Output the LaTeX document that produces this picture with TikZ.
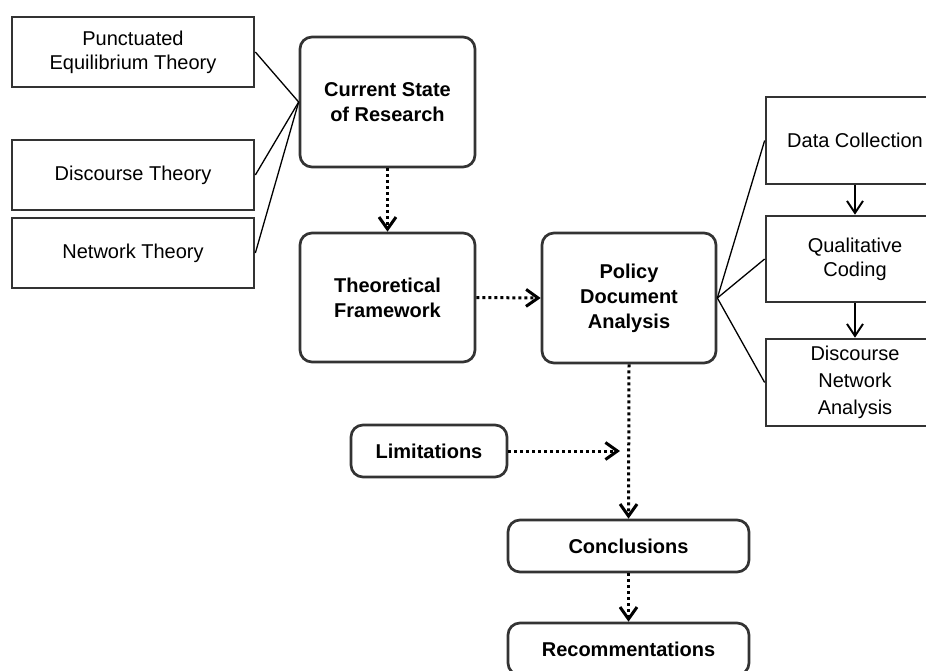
\documentclass[tikz,border=0pt]{standalone}
\usepackage{fontspec}
\setmainfont{Liberation Sans}
\usetikzlibrary{arrows.meta}
\definecolor{edge}{HTML}{333333}
\tikzset{
  base/.style={draw=edge, line width=2.7pt, align=center, inner sep=2pt,
    font=\fontsize{20}{24}\selectfont},
  plainbox/.style={base},
  roundbox/.style={base, rounded corners=12pt, font=\fontsize{20}{25}\selectfont\bfseries},
  link/.style={line width=1.3pt, black},
  flow/.style={line width=1.5pt, black, -{Straight Barb[length=12pt, width=16pt, line width=1.9pt]}},
  dotflow/.style={line width=3pt, black, dash pattern=on 3pt off 3pt,
    -{Straight Barb[length=12pt, width=17pt, line width=3pt]}},
}
\begin{document}
\begin{tikzpicture}[x=1pt, y=-1pt]
\useasboundingbox (0,0) rectangle (926,670);
\clip (0,0) rectangle (926,670);

% theories feeding the state of research
\node[plainbox, minimum width=242pt, minimum height=70pt] (pet) at (133,52) {Punctuated\\Equilibrium Theory};
\node[plainbox, minimum width=242pt, minimum height=70pt] (dt) at (133,175) {Discourse Theory};
\node[plainbox, minimum width=242pt, minimum height=70pt] (nt) at (133,253) {Network Theory};

% main research steps
\node[roundbox, minimum width=175pt, minimum height=130pt] (csr) at (387.5,102) {Current State\\of Research};
\node[roundbox, minimum width=175pt, minimum height=129pt] (tf) at (387.5,297.5) {Theoretical\\Framework};
\node[roundbox, minimum width=174pt, minimum height=130pt] (pda) at (629,298) {Policy\\Document\\Analysis};

% analysis procedure
\node[plainbox, minimum width=178pt, minimum height=87pt] (dc) at (855,140.5) {Data Collection};
\node[plainbox, minimum width=178pt, minimum height=86pt] (qc) at (855,259) {Qualitative\\Coding};
\node[plainbox, minimum width=178pt, minimum height=87pt, font=\fontsize{20}{27}\selectfont] (dna) at (855,382.5) {Discourse\\Network\\Analysis};

% outcomes
\node[roundbox, minimum width=156pt, minimum height=52pt] (lim) at (429,451) {Limitations};
\node[roundbox, minimum width=241pt, minimum height=52pt] (con) at (628.5,546) {Conclusions};
\node[roundbox, minimum width=241pt, minimum height=52pt] (rec) at (628.5,649) {Recommentations};
\coordinate (limend) at (620,451);

% connectors
\draw[link] (pet.east) -- (csr.west);
\draw[link] (dt.east) -- (csr.west);
\draw[link] (nt.east) -- (csr.west);
\draw[link] (pda.east) -- (dc.west);
\draw[link] (pda.east) -- (qc.west);
\draw[link] (pda.east) -- (dna.west);

\draw[flow] (dc.south) -- (qc.north);
\draw[flow] (qc.south) -- (dna.north);

\draw[dotflow] (csr.south) -- (tf.north);
\draw[dotflow] (tf.east) -- (pda.west);
\draw[dotflow] (pda.south) -- (con.north);
\draw[dotflow] (lim.east) -- (limend);
\draw[dotflow] (con.south) -- (rec.north);
\end{tikzpicture}
\end{document}
